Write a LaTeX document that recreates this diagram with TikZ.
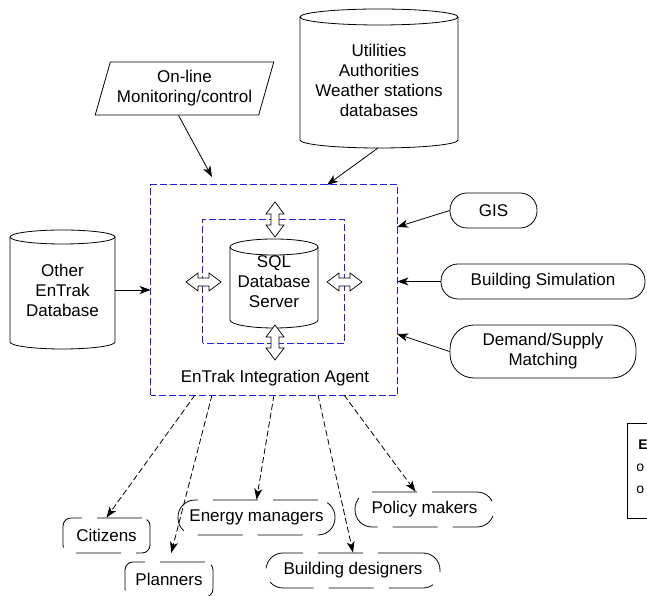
\documentclass[tikz,border=0pt]{standalone}
\usepackage{fontspec}
\setmainfont{Liberation Sans}
\usetikzlibrary{arrows.meta,calc,shapes.geometric}
\definecolor{agentblue}{RGB}{30,30,235}

\begin{document}
\begin{tikzpicture}[x=1pt,y=1pt,line width=0.8pt,
    every node/.style={font=\fontsize{17}{20}\selectfont,inner sep=0pt,align=center},
    agentline/.style={draw=agentblue,line width=1pt,dash pattern=on 7pt off 3pt},
    feed/.style={-{Stealth[length=11pt,width=8pt,inset=3pt]}},
    serve/.style={dash pattern=on 6pt off 3pt,-{Stealth[length=11pt,width=8pt,inset=3pt]}},
    tool/.style={draw,rounded corners=17pt,minimum height=35pt},
    user/.style={draw,dash pattern=on 45pt off 15pt,minimum height=35pt},
    bigarrow/.style={draw,line width=0.7pt,fill=white}]
  \useasboundingbox (0,0) rectangle (647,596);
  \clip (0,0) rectangle (647,596);

  % outside data sources
  \node (utildb) at (379,516) {Utilities\\Authorities\\Weather stations\\databases};
  \draw (300,579) -- (300,456) arc[start angle=180,end angle=360,x radius=79,y radius=8] -- (458,579);
  \draw (379,579) ellipse[x radius=79,y radius=8];
  \coordinate (utilout) at (378,448);
  \coordinate (utilin) at (327,411);

  \node[draw,trapezium,trapezium left angle=69,trapezium right angle=111,trapezium stretches=true,
    minimum width=179pt,minimum height=53pt] (online) at (184.5,507.5) {On-line\\Monitoring/control};
  \coordinate (onlinein) at (212,419);

  \node (otherdb) at (62.5,306) {Other\\EnTrak\\Database};
  \draw (10,359) -- (10,254) arc[start angle=180,end angle=360,x radius=52.5,y radius=7] -- (115,359);
  \draw (62.5,359) ellipse[x radius=52.5,y radius=7];
  \coordinate (otherout) at (115,306);

  % integration agent
  \node[minimum width=246pt,minimum height=210pt] (agent) at (274,306) {};
  \draw[agentline] (agent.south west) rectangle (agent.north east);
  \node[minimum width=141pt,minimum height=123pt] (core) at (273.5,314.5) {};
  \draw[agentline] (core.south west) rectangle (core.north east);
  \draw (230,349) -- (230,276) arc[start angle=180,end angle=360,x radius=44,y radius=8] -- (318,349);
  \draw (274,349) ellipse[x radius=44,y radius=8];
  \node (sql) at (274,314) {SQL\\Database\\Server};
  \node (agentlabel) at (275,218) {EnTrak Integration Agent};

  \begin{scope}[shift={(275,376.5)},rotate=90]
    \draw[bigarrow] (-17.5,0) -- (-5.5,9) -- (-5.5,4) -- (5.5,4) -- (5.5,9) -- (17.5,0)
      -- (5.5,-9) -- (5.5,-4) -- (-5.5,-4) -- (-5.5,-9) -- cycle;
  \end{scope}
  \begin{scope}[shift={(275,253.5)},rotate=90]
    \draw[bigarrow] (-17.5,0) -- (-5.5,9) -- (-5.5,4) -- (5.5,4) -- (5.5,9) -- (17.5,0)
      -- (5.5,-9) -- (5.5,-4) -- (-5.5,-4) -- (-5.5,-9) -- cycle;
  \end{scope}
  \begin{scope}[shift={(203.5,314)}]
    \draw[bigarrow] (-17.5,0) -- (-5.5,9) -- (-5.5,4) -- (5.5,4) -- (5.5,9) -- (17.5,0)
      -- (5.5,-9) -- (5.5,-4) -- (-5.5,-4) -- (-5.5,-9) -- cycle;
  \end{scope}
  \begin{scope}[shift={(344.5,314)}]
    \draw[bigarrow] (-17.5,0) -- (-5.5,9) -- (-5.5,4) -- (5.5,4) -- (5.5,9) -- (17.5,0)
      -- (5.5,-9) -- (5.5,-4) -- (-5.5,-4) -- (-5.5,-9) -- cycle;
  \end{scope}

  % tools on the right
  \node[tool,minimum width=87pt] (gis) at (493.5,385.5) {GIS};
  \node[tool,minimum width=204pt] (bsim) at (543,314.5) {Building Simulation};
  \node[tool,minimum width=186pt,minimum height=53pt,rounded corners=24pt] (dsm) at (543,244.5) {Demand/Supply\\Matching};
  \coordinate (gisin) at (397,369);
  \coordinate (dsmin) at (397,262);

  \draw[feed] (utilout) -- (utilin);
  \draw[feed] ($(online.south)+(-6,0)$) -- (onlinein);
  \draw[feed] (otherout) -- (agent.west);
  \draw[feed] (gis.west) -- (gisin);
  \draw[feed] (bsim.west) -- (agent.east |- bsim.west);
  \draw[feed] (dsm.west) -- (dsmin);

  % users
  \node[user,rounded corners=8pt,minimum width=87pt] (citizens) at (106.5,60.5) {Citizens};
  \node[user,rounded corners=8pt,minimum width=88pt] (planners) at (169,16.5) {Planners};
  \node[user,rounded corners=17pt,minimum width=157pt] (energy) at (256.5,78.5) {Energy managers};
  \node[user,rounded corners=17pt,minimum width=174pt] (designers) at (353,25.5) {Building designers};
  \node[user,rounded corners=17pt,minimum width=139pt] (policy) at (424.5,86.5) {Policy makers};

  \coordinate (out1) at (195,201);
  \coordinate (out2) at (212,201);
  \coordinate (out3) at (274,201);
  \coordinate (out4) at (318,201);
  \coordinate (out5) at (344,201);
  \draw[serve] (out1) -- (citizens.north);
  \draw[serve,shorten >=9pt] (out2) -- (planners.north);
  \draw[serve] (out3) -- (energy.north);
  \draw[serve] (out4) -- (designers.north);
  \draw[serve] (out5) -- ($(policy.north)+(-9,0)$);

  % cut-off box at the right edge
  \node[draw,anchor=north west,minimum width=40pt,minimum height=95pt] (legendbox) at (627,173) {};
  \node[anchor=base west,font=\fontsize{14}{22}\selectfont\bfseries] (legendE) at (638,146) {E};
  \node[anchor=base west,font=\fontsize{14}{22}\selectfont] (legendo1) at (636,124) {o};
  \node[anchor=base west,font=\fontsize{14}{22}\selectfont] (legendo2) at (636,102) {o};
\end{tikzpicture}
\end{document}
